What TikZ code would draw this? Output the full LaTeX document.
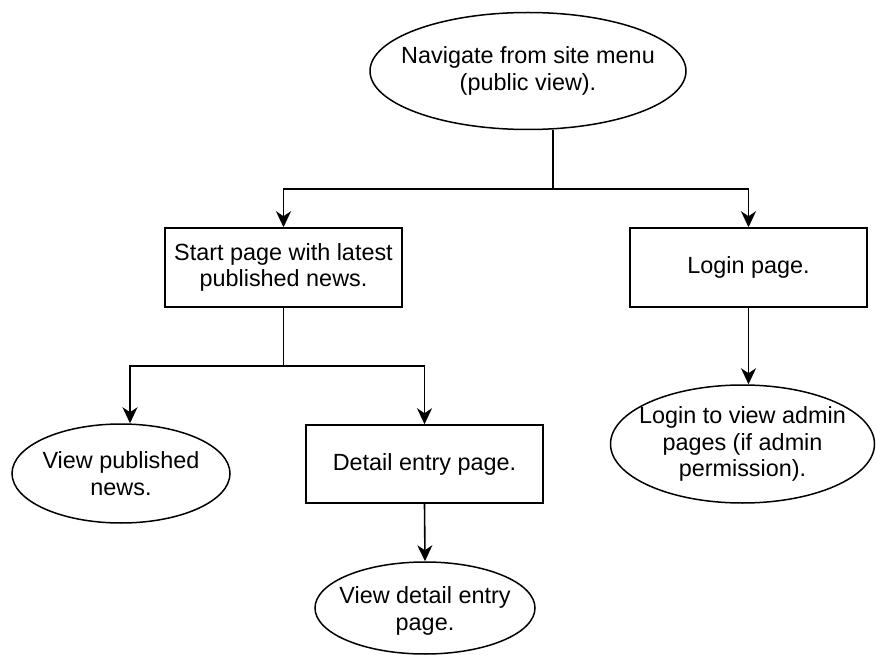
\documentclass[tikz,border=0pt]{standalone}
\usepackage{fontspec}
\setmainfont{Liberation Sans}
\usetikzlibrary{shapes.geometric,arrows.meta}
\begin{document}
\begin{tikzpicture}[x=1pt,y=-1pt,
  txt/.style={align=center,inner sep=0pt,font=\fontsize{23.4}{26.5}\selectfont},
  base/.style={draw=black,line width=1.5pt,fill=white,inner sep=0pt,txt},
  oval/.style={base,ellipse},
  box/.style={base,rectangle},
  conn/.style={line width=1.6pt,draw=black},
  arr/.style={conn,-{Stealth[length=16pt,width=15pt,inset=5pt]}}]
\useasboundingbox (0,0) rectangle (876,655);
\node[oval,minimum width=316pt,minimum height=117pt,label={[txt]center:Navigate from site menu\\(public view).}] (nav) at (528,71) {};
\node[box,minimum width=237pt,minimum height=79pt] (start) at (283.5,267.5) {Start page with latest\\published news.};
\node[box,minimum width=237pt,minimum height=79pt] (login) at (748.5,267.5) {Login page.};
\node[oval,minimum width=218pt,minimum height=99pt,label={[txt]center:View published\\news.}] (viewpub) at (121,473.5) {};
\node[box,minimum width=237pt,minimum height=78pt] (detail) at (424.5,464) {Detail entry page.};
\node[oval,minimum width=220pt,minimum height=92pt,label={[txt,yshift=-3pt]center:View detail entry\\page.}] (viewdet) at (425,608) {};
\node[oval,minimum width=264pt,minimum height=118pt,label={[txt]center:Login to view admin\\pages (if admin\\permission).}] (adm) at (742.5,444) {};
\coordinate (j1) at (553,189);
\coordinate (j2) at (283.5,366);
\coordinate (a1) at (130,0);
\draw[arr] (nav.south -| j1) -- (j1) -| (start.north);
\draw[arr] (j1) -| (login.north);
\draw[arr] (start.south) -- (j2) -| (viewpub.north -| a1);
\draw[arr] (j2) -| (detail.north);
\draw[arr] (detail.south) -- (viewdet.north);
\draw[arr] (login.south) -- (login.south |- adm.north);
\end{tikzpicture}
\end{document}
